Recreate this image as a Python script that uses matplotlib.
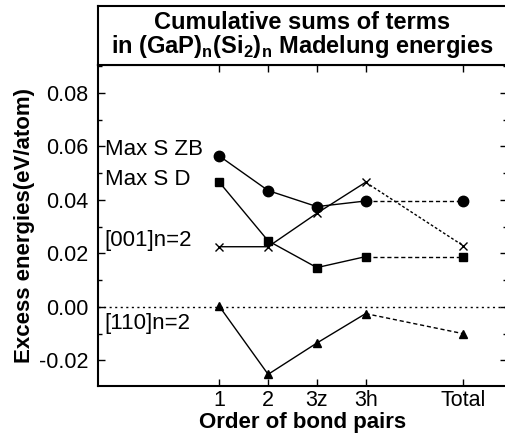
import matplotlib.pyplot as plt
from matplotlib.ticker import MultipleLocator

plt.rcParams["font.family"] = ["Liberation Sans", "DejaVu Sans"]
plt.rcParams["mathtext.fontset"] = "custom"
plt.rcParams["mathtext.rm"] = "Liberation Sans"
plt.rcParams["mathtext.bf"] = "Liberation Sans:bold"

# order of bond pairs; "Total" sits one slot further right
orders = ["1", "2", "3z", "3h", "Total"]
order_pos = [1, 2, 3, 4, 6]

max_s_zb = [0.0564, 0.0435, 0.0375, 0.0396, 0.0396]
max_s_d = [0.0466, 0.0247, 0.0147, 0.0188, 0.0188]
n2_001 = [0.0225, 0.0225, 0.0350, 0.0466, 0.0229]
n2_110 = [0.0002, -0.0252, -0.0135, -0.0025, -0.0100]

series = [
    (max_s_zb, "o", 7.5, (0, (3, 2)), "Max S ZB"),
    (max_s_d, "s", 5.5, (0, (3, 2)), "Max S D"),
    (n2_001, "x", 6, (0, (2, 1.5)), "[001]n=2"),
    (n2_110, "^", 6, (0, (3, 2)), "[110]n=2"),
]
label_y = [0.0587, 0.0475, 0.0250, -0.0062]

fig = plt.figure(figsize=(5.05, 4.44), dpi=100)
ax = fig.add_axes([0.194, 0.131, 0.81, 0.723])
tax = fig.add_axes([0.194, 0.854, 0.81, 0.1325])

for (vals, mk, ms, dash, name), ly in zip(series, label_y):
    ax.plot(order_pos[:4], vals[:4], color="black", lw=1.0, marker=mk,
            ms=ms, mew=1.0)
    ax.plot(order_pos[3:], vals[3:], color="black", lw=1.0, ls=dash,
            marker=mk, ms=ms, mew=1.0, markevery=[1])
    ax.text(-1.35, ly, name, fontsize=16, va="center", ha="left")

ax.axhline(0, color="black", lw=1.0, ls=(0, (1.5, 2.5)))

ax.set_xlim(-1.49, 6.9)
ax.set_ylim(-0.0295, 0.0905)
ax.set_xticks(order_pos)
ax.set_xticklabels(orders)
ax.yaxis.set_major_locator(MultipleLocator(0.02))
ax.yaxis.set_minor_locator(MultipleLocator(0.01))
ax.yaxis.set_major_formatter(plt.FormatStrFormatter("%.2f"))
ax.tick_params(which="both", direction="in", top=True, right=True,
               labelsize=15.5, width=1.0)
ax.tick_params(which="major", length=5)
ax.tick_params(axis="y", which="major", pad=7)
ax.tick_params(axis="x", which="major", pad=3)
ax.tick_params(which="minor", length=3)
for sp in ax.spines.values():
    sp.set_linewidth(1.5)

ax.set_xlabel("Order of bond pairs", fontsize=16, fontweight="bold",
              labelpad=1)
ax.set_ylabel("Excess energies(eV/atom)", fontsize=16, fontweight="bold",
              labelpad=3)

tax.set_xticks([])
tax.set_yticks([])
for sp in tax.spines.values():
    sp.set_linewidth(1.5)
tax.text(0.5, 0.5, "Cumulative sums of terms\nin (GaP)$_\\mathbf{n}$(Si$_\\mathbf{2}$)$_\\mathbf{n}$ Madelung energies",
         transform=tax.transAxes, ha="center", va="center", fontsize=17,
         fontweight="bold", linespacing=0.95)

fig.savefig("out.png", dpi=100)
